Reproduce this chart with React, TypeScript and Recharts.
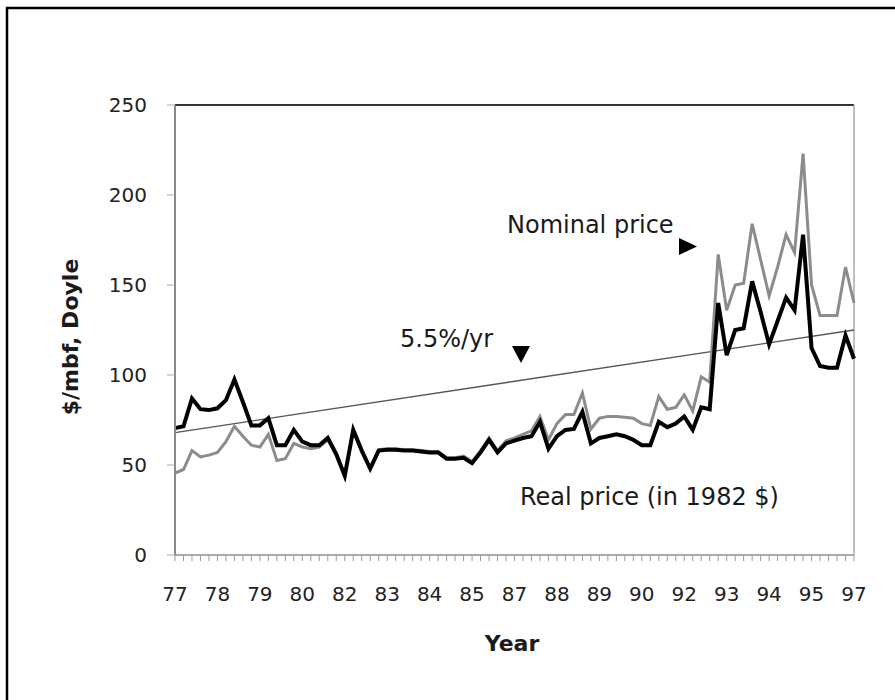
import React from "react";
import { LineChart, Line, XAxis, YAxis, ReferenceLine } from "recharts";

// Quarterly prices, 1977 Q1 .. 1997 Q1 (81 quarters)
const realPrice = [
  70.5, 71.5, 87, 81, 80.5, 81.5, 86, 97.5, 85, 72,
  72, 76, 61, 61, 69.5, 63, 61, 61, 65, 56,
  44, 69.5, 58, 48, 58, 58.5, 58.5, 58, 58, 57.5,
  57, 57, 53.5, 53.5, 54, 51, 57, 64, 57, 62,
  63.5, 65, 66, 74, 59, 66, 69.5, 70, 79.5, 62,
  65, 66, 67, 66, 64, 61, 61, 74, 71, 73,
  77, 69.5, 82, 81, 140, 111, 125, 126, 152, 135,
  117, 130, 143, 136, 178, 115, 105, 104, 104, 122,
  109,
];

const nominalPrice = [
  45.5, 47.5, 58, 54.5, 55.5, 57, 63, 71.5, 66, 61,
  60, 67, 52.5, 53.5, 62, 60, 59, 60, 64, 56,
  44, 69.5, 58, 48, 58.5, 59, 59, 58.5, 58.5, 58,
  57.5, 57.5, 54, 54, 55, 52, 58, 65, 58, 63.5,
  65, 67, 69, 77, 64, 73, 78, 78, 90, 70,
  76, 77, 77, 76.5, 76, 73, 72, 88, 81, 82,
  89, 80, 99, 96, 167, 136, 150, 151, 184, 164,
  144, 160, 178, 168, 223, 150, 133, 133, 133, 160,
  140,
];

// trend line (5.5%/yr) endpoints
const trendStart = 68;
const trendEnd = 125;

// category labels shown every 5 quarters
const tickLabels = ["77", "78", "79", "80", "82", "83", "84", "85", "87", "88", "89", "90", "92", "93", "94", "95", "97"];
const labelEvery = 5;

const yTicks = [0, 50, 100, 150, 200, 250];

const quarters = realPrice.map((_, i) => i);
const data = quarters.map((q) => ({ q, real: realPrice[q], nominal: nominalPrice[q] }));
const lastQ = quarters[quarters.length - 1];

const FONT = "'DejaVu Sans', sans-serif";

const XTick = (props: any) => {
  const { x, y, payload } = props;
  const v = payload.value;
  if (v % labelEvery !== 0) return <g />;
  return (
    <text x={x} y={y + 38} textAnchor="middle" fontSize={20} fill="#222" fontFamily={FONT}>
      {tickLabels[v / labelEvery]}
    </text>
  );
};

export default function App() {
  return (
    <div style={{ position: "absolute", left: 0, top: 0, width: 895, height: 700, background: "#fff", fontFamily: FONT }}>
      <LineChart width={895} height={700} data={data} margin={{ top: 105, right: 41, bottom: 105, left: 115 }}>
        <XAxis
          type="number"
          dataKey="q"
          domain={[0, lastQ]}
          ticks={quarters}
          interval={0}
          height={40}
          tickSize={6}
          stroke="#aaa"
          axisLine={{ stroke: "#aaa", strokeWidth: 2 }}
          tickLine={{ stroke: "#999", strokeWidth: 1 }}
          tick={<XTick />}
        />
        <YAxis
          domain={[0, 250]}
          ticks={yTicks}
          width={60}
          tickSize={8}
          tickMargin={20}
          axisLine={{ stroke: "#888", strokeWidth: 2 }}
          tickLine={{ stroke: "#aaa", strokeWidth: 1 }}
          tick={{ fontSize: 20, fill: "#222", fontFamily: FONT }}
        />
        <ReferenceLine y={250} stroke="#333" strokeWidth={2} />
        <ReferenceLine x={lastQ} stroke="#aaa" strokeWidth={1.5} />
        <ReferenceLine
          segment={[{ x: 0, y: trendStart }, { x: lastQ, y: trendEnd }]}
          stroke="#555"
          strokeWidth={1.3}
        />
        <Line type="linear" dataKey="nominal" stroke="#8c8c8c" strokeWidth={3} dot={false} isAnimationActive={false} />
        <Line type="linear" dataKey="real" stroke="#000" strokeWidth={4} dot={false} isAnimationActive={false} />
      </LineChart>
      <svg width={895} height={700} style={{ position: "absolute", left: 0, top: 0, pointerEvents: "none" }}>
        <line x1={7} y1={7} x2={7} y2={700} stroke="#000" strokeWidth={2.5} />
        <line x1={6} y1={8} x2={895} y2={8} stroke="#000" strokeWidth={2.5} />
        <text x={78} y={337} transform="rotate(-90 78 337)" textAnchor="middle" fontSize={22} fontWeight="bold" fill="#1a1a1a" fontFamily={FONT}>
          $/mbf, Doyle
        </text>
        <text x={512} y={651} textAnchor="middle" fontSize={22} fontWeight="bold" fill="#1a1a1a" fontFamily={FONT}>
          Year
        </text>
        <text x={507} y={233} fontSize={24} fill="#1a1a1a" fontFamily={FONT}>Nominal price</text>
        <polygon points="679,238 697,246.5 679,255" fill="#000" />
        <text x={400} y={347} fontSize={24} fill="#1a1a1a" fontFamily={FONT}>5.5%/yr</text>
        <polygon points="512,346 530,346 521,363" fill="#000" />
        <text x={520} y={505} fontSize={24} fill="#1a1a1a" fontFamily={FONT}>Real price (in 1982 $)</text>
      </svg>
    </div>
  );
}
